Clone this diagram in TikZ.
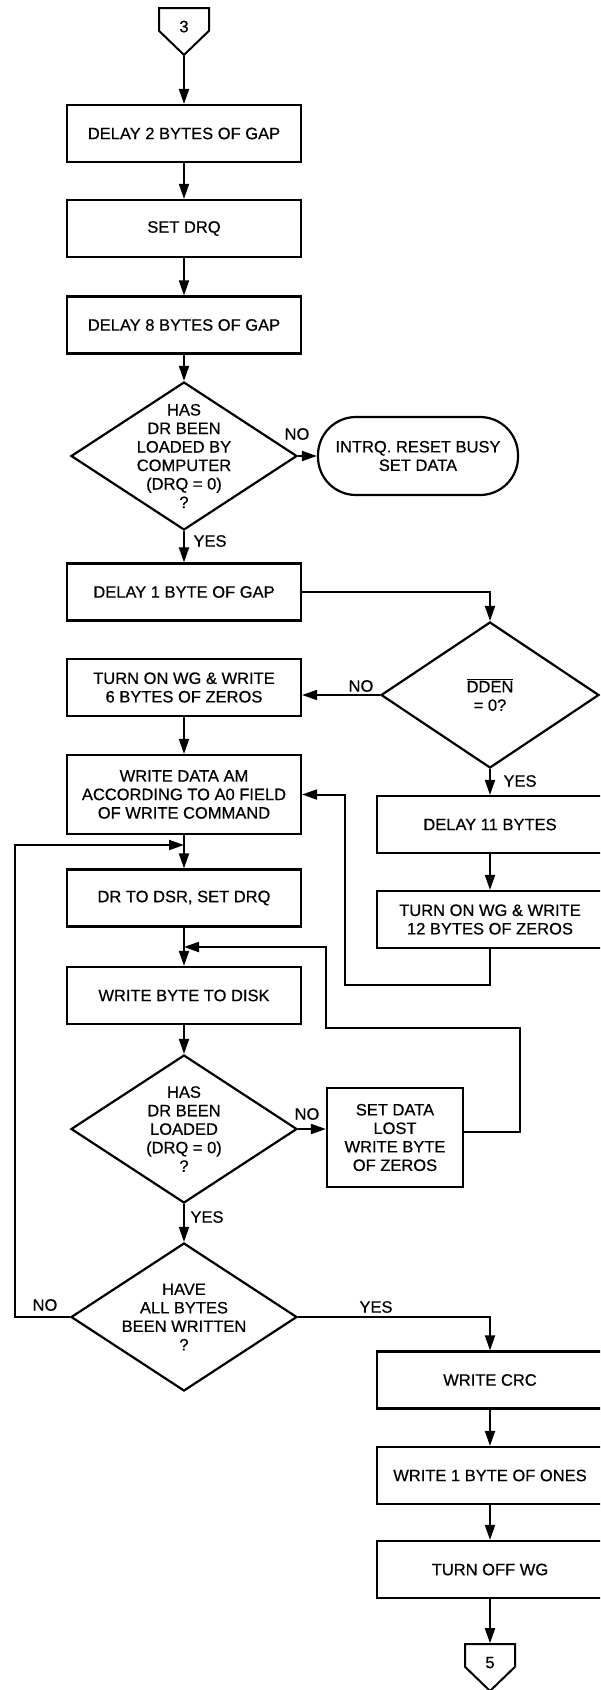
\documentclass[tikz,border=0pt]{standalone}
\usepackage{fontspec}
\setmainfont{Liberation Sans}[FakeBold=0.6]
\usetikzlibrary{arrows.meta,shapes.geometric,shapes.symbols}
\begin{document}
\begin{tikzpicture}[
    x=1pt, y=-1pt,
    every node/.style={font=\fontsize{16.5}{18.5}\selectfont},
    box/.style={draw, line width=2.2pt, minimum width=234pt, minimum height=57pt, align=center, inner sep=0pt},
    rbox/.style={box, minimum width=226pt},
    decision/.style={draw, diamond, line width=2.2pt, minimum width=226pt, minimum height=148pt, inner sep=0pt},
    dtext/.style={align=center, inner sep=0pt},
    term/.style={draw, rectangle, rounded corners=38pt, line width=2.2pt, minimum width=200pt, minimum height=78pt, align=center, inner sep=0pt},
    conn/.style={draw, signal, signal to=south, signal from=nowhere, signal pointer angle=92, line width=2pt, minimum width=50pt, minimum height=27pt, inner sep=0pt},
    lbl/.style={inner sep=0pt},
    arr/.style={-{Triangle[length=15pt, width=10pt]}, line width=2pt}
]
\useasboundingbox (0,0) rectangle (600,1690);
\fill[white] (0,0) rectangle (600,1690);
\clip (0,0) rectangle (600,1690);

% left column
\node[conn] (c3) at (184,19.5) {\raisebox{-7pt}[\height][0pt]{3}};
\node[box] (b1) at (184,133.5) {DELAY 2 BYTES OF GAP};
\node[box] (b2) at (184,228.5) {SET DRQ};
\node[box] (b3) at (184,325) {DELAY 8 BYTES OF GAP};
\node[decision] (d1) at (184,456) {};
\node[dtext] (d1t) at (d1) {HAS\\DR BEEN\\LOADED BY\\COMPUTER\\(DRQ = 0)\\?};
\node[term] (t1) at (418,456) {INTRQ. RESET BUSY\\SET DATA};
\node[box] (b4) at (184,592) {DELAY 1 BYTE OF GAP};
\node[box] (b5) at (184,687.5) {TURN ON WG \& WRITE\\6 BYTES OF ZEROS};
\node[box, minimum height=79pt] (b6) at (184,794.5) {WRITE DATA AM\\ACCORDING TO A0 FIELD\\OF WRITE COMMAND};
\node[box] (b7) at (184,898) {DR TO DSR, SET DRQ};
\node[box] (b8) at (184,995.5) {WRITE BYTE TO DISK};
\node[decision] (d3) at (184,1129) {};
\node[dtext] (d3t) at (d3) {HAS\\DR BEEN\\LOADED\\(DRQ = 0)\\?};
\node[box, minimum width=136pt, minimum height=99pt] (lost) at (395,1137.5) {SET DATA\\LOST\\WRITE BYTE\\OF ZEROS};
\node[decision] (d4) at (184,1317) {};
\node[dtext] (d4t) at (d4) {HAVE\\ALL BYTES\\BEEN WRITTEN\\?};

% right column
\node[decision, minimum width=218pt, minimum height=146pt] (d2) at (490,695) {};
\node[dtext] (d2t) at (d2) {$\overline{\mbox{DDEN}}$\\= 0?};
\node[rbox] (r1) at (490,824.5) {DELAY 11 BYTES};
\node[rbox] (r2) at (490,919.5) {TURN ON WG \& WRITE\\12 BYTES OF ZEROS};
\node[rbox] (r3) at (490,1380) {WRITE CRC};
\node[rbox] (r4) at (490,1475.5) {WRITE 1 BYTE OF ONES};
\node[rbox] (r5) at (490,1569.5) {TURN OFF WG};
\node[conn] (c5) at (490,1655.5) {\raisebox{-7pt}[\height][0pt]{5}};

% labels
\node[lbl] (no1) at (297,434) {NO};
\node[lbl] (yes1) at (210,541) {YES};
\node[lbl] (no2) at (361,686) {NO};
\node[lbl] (yes2) at (520,781) {YES};
\node[lbl] (no3) at (307,1114) {NO};
\node[lbl] (yes3) at (207,1217) {YES};
\node[lbl] (no4) at (45,1305) {NO};
\node[lbl] (yes4) at (376,1307) {YES};

% junctions
\coordinate (j1) at (345,985);
\coordinate (j2) at (520,1028);
\coordinate (j3) at (326,947);
\coordinate (m2) at (184,947);
\coordinate (j4) at (15,845);
\coordinate (m1) at (184,845);

% arrows
\draw[arr] (c3.south) -- (b1.north);
\draw[arr] (b1) -- (b2);
\draw[arr] (b2) -- (b3);
\draw[arr] (b3.south) -- (d1.north);
\draw[arr] (d1.east) -- (t1.west);
\draw[arr] (d1.south) -- (b4.north);
\draw[arr] (b4.east) -| (d2.north);
\draw[arr] (d2.west) -- (d2.west -| b5.east);
\draw[arr] (d2.south) -- (r1.north);
\draw[arr] (r1) -- (r2);
\draw[arr] (r2.south) |- (j1) |- (b6.east);
\draw[arr] (b5) -- (b6);
\draw[arr] (b6) -- (b7);
\draw[arr] (b7) -- (b8);
\draw[arr] (b8.south) -- (d3.north);
\draw[arr] (d3.east) -- (d3.east -| lost.west);
\draw[arr] ([yshift=5.5pt]lost.east) -| (j2) -| (j3) -- (m2);
\draw[arr] (d3.south) -- (d4.north);
\draw[arr] (d4.west) -| (j4) -- (m1);
\draw[arr] (d4.east) -| (r3.north);
\draw[arr] (r3) -- (r4);
\draw[arr] (r4) -- (r5);
\draw[arr] (r5.south) -- (c5.north);
\end{tikzpicture}
\end{document}
